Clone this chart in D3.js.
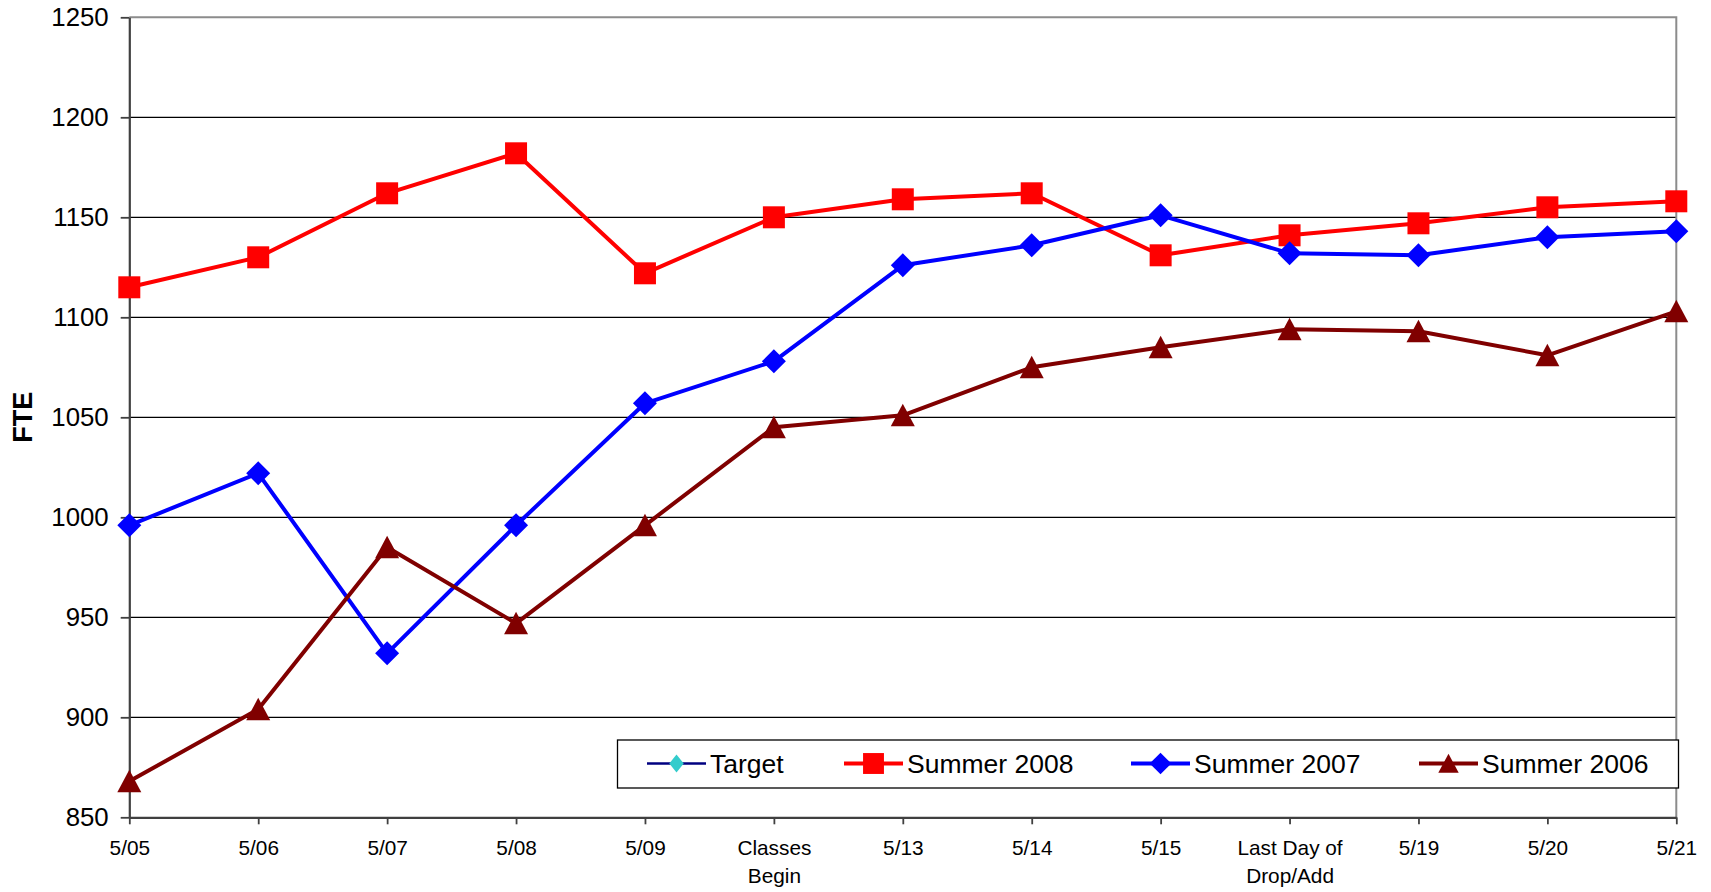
<!DOCTYPE html>
<html>
<head>
<meta charset="utf-8">
<script src="https://cdn.jsdelivr.net/npm/d3@7/dist/d3.min.js"></script>
<style>
  html, body { margin: 0; padding: 0; background: #fff; }
  svg { display: block; }
  text { font-family: "Liberation Sans", Arial, sans-serif; fill: #000; }
</style>
</head>
<body>
<svg id="chart" width="1711" height="892"></svg>
<script>
// ---------------- data ----------------
const categories = ["5/05","5/06","5/07","5/08","5/09","Classes\nBegin","5/13","5/14","5/15","Last Day of\nDrop/Add","5/19","5/20","5/21"];
const yTicks = [850, 900, 950, 1000, 1050, 1100, 1150, 1200, 1250];
const seriesNames = ["Target", "Summer 2008", "Summer 2007", "Summer 2006"];
const target = [];
const summer2008 = [1115, 1130, 1162, 1182, 1122, 1150, 1159, 1162, 1131, 1141, 1147, 1155, 1158];
const summer2007 = [996, 1022, 932, 996, 1057, 1078, 1126, 1136, 1151, 1132, 1131, 1140, 1143];
const summer2006 = [868, 904, 985, 947, 996, 1045, 1051, 1075, 1085, 1094, 1093, 1081, 1103];
const yLabel = "FTE";

// ---------------- layout / style ----------------
const plot = { left: 129.3, right: 1676.3, top: 17.3, bottom: 817.3 };
const styles = [
  { line: "#000080", fill: "#33CCCC", marker: "diamondSmall", width: 2.5 },
  { line: "#FF0000", fill: "#FF0000", marker: "square", width: 4 },
  { line: "#0000FF", fill: "#0000FF", marker: "diamond", width: 4 },
  { line: "#800000", fill: "#800000", marker: "triangle", width: 4 }
];
const legendItemX = [647, 844, 1131, 1419];
const seriesData = [target, summer2008, summer2007, summer2006];

const svg = d3.select("#chart");
const x = d3.scalePoint().domain(categories).range([plot.left, plot.right]);
const y = d3.scaleLinear().domain([850, 1250]).range([plot.bottom, plot.top]);

function markerPath(type) {
  switch (type) {
    case "square": return "M-11,-11H11V11H-11Z";
    case "diamond": return "M0,-12L12,0L0,12L-12,0Z";
    case "diamondSmall": return "M0,-10L8,0L0,10L-8,0Z";
    case "triangle": return "M0,-11.5L12,11L-12,11Z";
  }
}

// gridlines
svg.append("g")
  .selectAll("line")
  .data(yTicks.filter(v => v > 850 && v < 1250))
  .join("line")
  .attr("x1", plot.left).attr("x2", plot.right)
  .attr("y1", d => y(d)).attr("y2", d => y(d))
  .attr("stroke", "#000").attr("stroke-width", 1.3);

// plot border top & right (gray)
svg.append("path")
  .attr("d", `M${plot.left},${y(1250)}H${plot.right}V${plot.bottom}`)
  .attr("fill", "none").attr("stroke", "#8c8c8c").attr("stroke-width", 2);

// y axis
const yAxis = svg.append("g")
  .attr("transform", `translate(${plot.left},0)`)
  .call(d3.axisLeft(y).tickValues(yTicks).tickSize(8.6).tickPadding(12).tickSizeOuter(0).tickFormat(d3.format("d")));
yAxis.select(".domain").attr("stroke", "#404040").attr("stroke-width", 2.2);
yAxis.selectAll(".tick line").attr("stroke", "#404040").attr("stroke-width", 1.8);
yAxis.selectAll(".tick text")
  .attr("font-size", 25.8)
  .style("font-family", '"Liberation Sans", Arial, sans-serif')
  .attr("fill", "#000");

// x axis
const xAxis = svg.append("g")
  .attr("transform", `translate(0,${plot.bottom})`)
  .call(d3.axisBottom(x).tickSize(7).tickSizeOuter(0).tickFormat(""));
xAxis.select(".domain").attr("stroke", "#404040").attr("stroke-width", 2.2);
xAxis.selectAll(".tick line").attr("stroke", "#404040").attr("stroke-width", 1.8);
xAxis.selectAll(".tick").each(function(d) {
  const t = d3.select(this).append("text")
    .attr("text-anchor", "middle")
    .attr("font-size", 20.8)
    .attr("fill", "#000");
  d.split("\n").forEach((ln, i) => {
    t.append("tspan").attr("x", 0).attr("y", 38 + i * 27.4).text(ln);
  });
});

// y label
svg.append("text")
  .attr("transform", `translate(31.5,${(plot.top + plot.bottom) / 2}) rotate(-90)`)
  .attr("text-anchor", "middle")
  .attr("font-size", 27)
  .attr("font-weight", "bold")
  .text(yLabel);

// series
const lineGen = d3.line().x((d, i) => x(categories[i])).y(d => y(d));
seriesData.forEach((data, si) => {
  if (!data.length) return;
  const st = styles[si];
  const g = svg.append("g");
  g.append("path")
    .datum(data)
    .attr("d", lineGen)
    .attr("fill", "none")
    .attr("stroke", st.line)
    .attr("stroke-width", st.width)
    .attr("stroke-linejoin", "round");
  g.selectAll("path.mk")
    .data(data)
    .join("path")
    .attr("class", "mk")
    .attr("d", markerPath(st.marker))
    .attr("transform", (d, i) => `translate(${x(categories[i])},${y(d)})`)
    .attr("fill", st.fill)
    .attr("stroke", "none");
});

// legend
const legendBox = { x: 617.5, y: 740, w: 1061, h: 48 };
const lg = svg.append("g");
lg.append("rect")
  .attr("x", legendBox.x).attr("y", legendBox.y)
  .attr("width", legendBox.w).attr("height", legendBox.h)
  .attr("fill", "#fff").attr("stroke", "#000").attr("stroke-width", 1.3);
const ly = legendBox.y + 23.5;
seriesNames.forEach((name, i) => {
  const st = styles[i];
  const lx = legendItemX[i];
  lg.append("line")
    .attr("x1", lx).attr("x2", lx + 59)
    .attr("y1", ly).attr("y2", ly)
    .attr("stroke", st.line).attr("stroke-width", st.width);
  lg.append("path")
    .attr("d", markerPath(st.marker))
    .attr("transform", `translate(${lx + 29.5},${ly})` + (st.marker === "square" ? " scale(0.95)" : st.marker === "triangle" ? " scale(0.85)" : " scale(0.9)"))
    .attr("fill", st.fill);
  lg.append("text")
    .attr("x", lx + 63)
    .attr("y", ly + 9.5)
    .attr("font-size", 26.5)
    .text(name);
});
</script>
</body>
</html>
